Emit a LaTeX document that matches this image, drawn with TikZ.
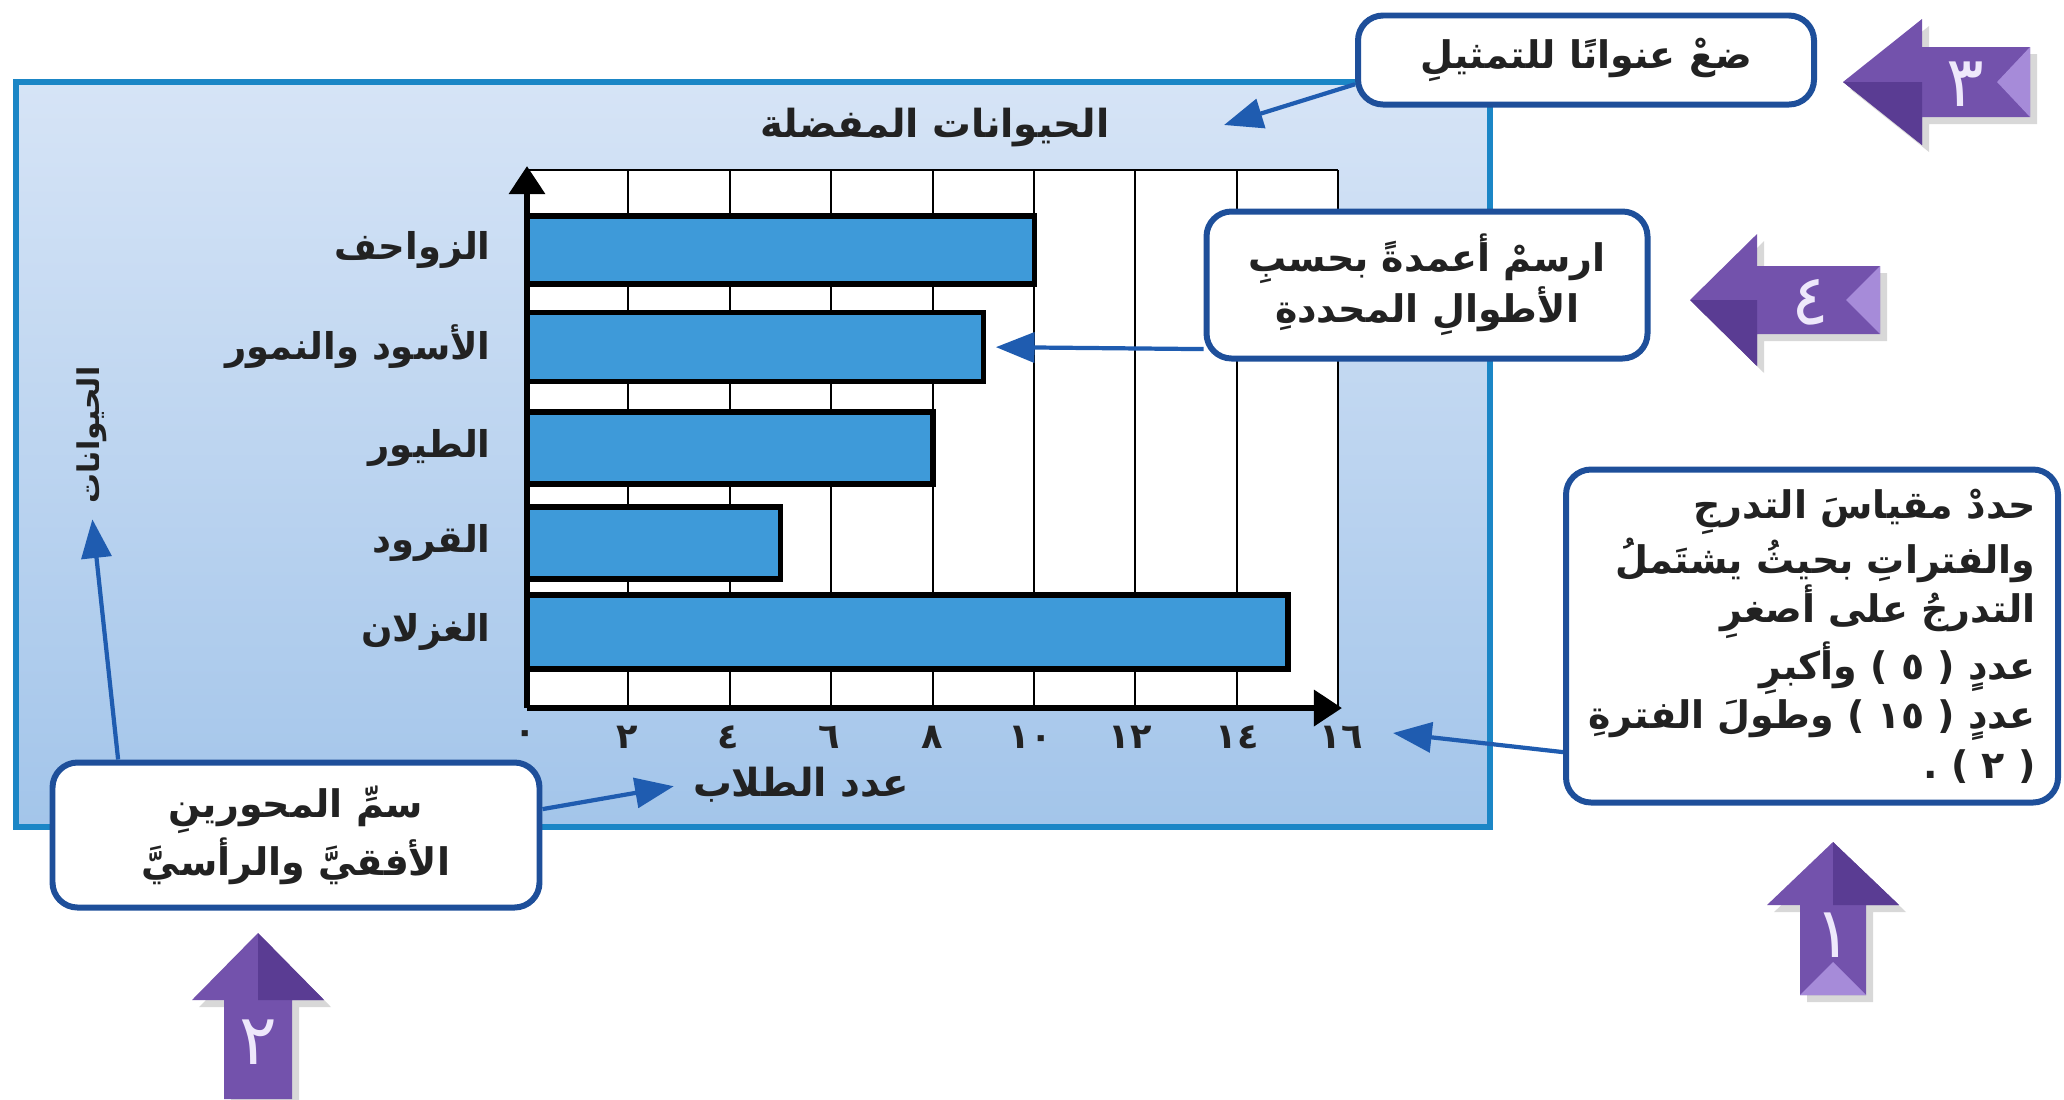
\documentclass[tikz,border=0pt]{standalone}
\usepackage{fontspec}
\usetikzlibrary{arrows.meta,shadows}
\TeXXeTstate=1
\newfontfamily\arabicfont[Script=Arabic]{DejaVu Sans}
\newcommand{\pxl}{0.01cm}
\newcommand{\stw}{0.507cm}
\definecolor{panelblue}{HTML}{1B86C6}
\definecolor{paneltop}{HTML}{D6E4F6}
\definecolor{panelbottom}{HTML}{A3C5EA}
\definecolor{calloutblue}{HTML}{1E4F9A}
\definecolor{pointerblue}{HTML}{1F5CB0}
\definecolor{barblue}{HTML}{3E9AD9}
\definecolor{arrowpurple}{HTML}{7352AC}
\definecolor{purplelight}{HTML}{A68BD9}
\definecolor{purpledark}{HTML}{5A3C93}
\definecolor{digitlav}{HTML}{EEE8FB}
\definecolor{textdark}{HTML}{222222}

\begin{document}
\begin{tikzpicture}[x=\pxl, y=-\pxl,
    panel/.style={draw=panelblue, line width=1.8pt, top color=paneltop, bottom color=panelbottom},
    callout/.style={draw=calloutblue, line width=1.7pt, rounded corners=0.25cm, fill=white, align=center, inner sep=0pt, text=textdark, font=\arabicfont\bfseries\fontsize{10.8}{14.5}\selectfont},
    pointer/.style={draw=pointerblue, line width=1.2pt, -{Triangle[length=11pt,width=8.5pt]}},
    animalbar/.style={draw=black, line width=1.6pt, fill=barblue, anchor=west, inner sep=0pt, outer sep=0pt},
    catlabel/.style={anchor=east, text=textdark, font=\arabicfont\bfseries\fontsize{10.5}{13}\selectfont},
    ticklabel/.style={text=textdark, font=\arabicfont\bfseries\fontsize{10}{12}\selectfont},
    axislabel/.style={text=textdark, font=\arabicfont\bfseries\fontsize{11}{13}\selectfont},
    axisline/.style={draw=black, line width=1.8pt, -{Triangle[length=8pt,width=10pt]}},
    gridline/.style={draw=black, line width=0.6pt},
    parrow/.style={fill=arrowpurple, drop shadow={opacity=0.3, shadow xshift=2pt, shadow yshift=-2pt}},
    ptail/.style={fill=purplelight},
    pfacet/.style={fill=purpledark},
    pdigit/.style={text=digitlav, font=\arabicfont\fontsize{20}{22}\selectfont}]

    % Background and panel
    \fill[white] (0,0) rectangle (2064,1099);
    \useasboundingbox (0,0) rectangle (2064,1099);
    \draw[panel] (16,82) rectangle (1490,827);

    % Title
    \node[axislabel] (title) at (935,128) {\beginR الحيوانات المفضلة\endR};

    % Grid
    \fill[white] (527,170) rectangle (1338,708);
    \draw[gridline] (527,170) -- (1338,170);
    \draw[gridline] (628.4,170) -- (628.4,708);
    \draw[gridline] (729.8,170) -- (729.8,708);
    \draw[gridline] (831.2,170) -- (831.2,708);
    \draw[gridline] (932.6,170) -- (932.6,708);
    \draw[gridline] (1034,170) -- (1034,708);
    \draw[gridline] (1135.4,170) -- (1135.4,708);
    \draw[gridline] (1236.8,170) -- (1236.8,708);
    \draw[gridline] (1338.2,170) -- (1338.2,708);

    % Bars
    \node[animalbar, minimum width=10*\stw, minimum height=68*\pxl] (bar-1) at (527,250) {};
    \node[animalbar, minimum width=9*\stw, minimum height=69*\pxl] (bar-2) at (527,347) {};
    \node[animalbar, minimum width=8*\stw, minimum height=72*\pxl] (bar-3) at (527,448) {};
    \node[animalbar, minimum width=5*\stw, minimum height=72*\pxl] (bar-4) at (527,543) {};
    \node[animalbar, minimum width=15*\stw, minimum height=74*\pxl] (bar-5) at (527,632) {};

    % Axes
    \coordinate (origin) at (527,708);
    \coordinate (ytop) at (527,166);
    \coordinate (xend) at (1342,708);
    \draw[axisline] (origin) -- (ytop);
    \draw[axisline] (origin) -- (xend);

    % Category labels
    \node[catlabel] (cat-1) at (503,250) {\beginR الزواحف\endR};
    \node[catlabel] (cat-2) at (503,347) {\beginR الأسود والنمور\endR};
    \node[catlabel] (cat-3) at (503,448) {\beginR الطيور\endR};
    \node[catlabel] (cat-4) at (503,543) {\beginR القرود\endR};
    \node[catlabel] (cat-5) at (503,632) {\beginR الغزلان\endR};

    % Tick labels
    \node[ticklabel] (tick-0) at (525,737) {٠};
    \node[ticklabel] (tick-2) at (627,737) {٢};
    \node[ticklabel] (tick-4) at (728,737) {٤};
    \node[ticklabel] (tick-6) at (829,737) {٦};
    \node[ticklabel] (tick-8) at (932,737) {٨};
    \node[ticklabel] (tick-10) at (1030,737) {١٠};
    \node[ticklabel] (tick-12) at (1130,737) {١٢};
    \node[ticklabel] (tick-14) at (1237,737) {١٤};
    \node[ticklabel] (tick-16) at (1341,737) {١٦};

    % Axis labels
    \node[axislabel] (xlabel) at (801,785) {\beginR عدد الطلاب\endR};
    \node[axislabel, rotate=90, font=\arabicfont\bfseries\fontsize{8.5}{10}\selectfont] (ylabel) at (92,435) {\beginR الحيوانات\endR};

    % Callouts
    \node[callout, minimum width=456*\pxl, minimum height=89*\pxl] (boxTitle) at (1586,60) {\beginR ضعْ عنوانًا للتمثيلِ\endR};
    \node[callout, minimum width=441*\pxl, minimum height=147*\pxl] (boxBars) at (1427,285) {\beginR ارسمْ أعمدةً بحسبِ\endR\\\beginR الأطوالِ المحددةِ\endR};
    \node[callout, align=right, minimum width=492*\pxl, minimum height=333*\pxl, font=\arabicfont\bfseries\fontsize{10.8}{14}\selectfont] (boxScale) at (1812,636) {\beginR حددْ مقياسَ التدرجِ\endR\\\beginR والفتراتِ بحيثُ يشتَملُ\endR\\\beginR التدرجُ على أصغرِ\endR\\\beginR عددٍ ( ٥ ) وأكبرِ\endR\\\beginR عددٍ ( ١٥ ) وطولَ الفترةِ\endR\\\beginR ( ٢ ) .\endR};
    \node[callout, minimum width=487*\pxl, minimum height=145*\pxl] (boxAxes) at (296,835) {\beginR سمِّ المحورينِ\endR\\\beginR الأفقيَّ والرأسيَّ\endR};

    % Pointers
    \coordinate (titletip) at (1224,125);
    \coordinate (scaletip) at (1393,733);
    \draw[pointer] (boxTitle.186) -- (titletip);
    \draw[pointer, shorten >=3.5pt] (boxBars.196) -- (bar-2.east);
    \draw[pointer] (boxScale.205) -- (scaletip);
    \draw[pointer, shorten >=1pt] (boxAxes.157) -- (ylabel.west);
    \draw[pointer, shorten >=2pt] (boxAxes.6) -- (xlabel.west);

    % Step arrows
    \fill[parrow] (1843,82) -- (1922,19) -- (1922,47) -- (2030,47) -- (2030,117) -- (1922,117) -- (1922,145) -- cycle;
    \fill[pfacet] (1843,82) -- (1922,82) -- (1922,145) -- cycle;
    \fill[ptail] (2030,47) -- (1997,82) -- (2030,117) -- cycle;
    \fill[parrow] (1690,300) -- (1757,234) -- (1757,266) -- (1880,266) -- (1880,334) -- (1757,334) -- (1757,366) -- cycle;
    \fill[pfacet] (1690,300) -- (1757,300) -- (1757,366) -- cycle;
    \fill[ptail] (1880,266) -- (1846,300) -- (1880,334) -- cycle;
    \fill[parrow] (1833,842) -- (1899,905) -- (1866,905) -- (1866,995) -- (1800,995) -- (1800,905) -- (1767,905) -- cycle;
    \fill[pfacet] (1833,842) -- (1899,905) -- (1833,905) -- cycle;
    \fill[ptail] (1800,995) -- (1833,962) -- (1866,995) -- cycle;
    \fill[parrow] (258,933) -- (324,1000) -- (292,1000) -- (292,1099) -- (224,1099) -- (224,1000) -- (192,1000) -- cycle;
    \fill[pfacet] (258,933) -- (324,1000) -- (258,1000) -- cycle;

    \node[pdigit] (num-3) at (1965,84) {٣};
    \node[pdigit] (num-4) at (1810,302) {٤};
    \node[pdigit] (num-1) at (1833,935) {١};
    \node[pdigit] (num-2) at (258,1042) {٢};

\end{tikzpicture}
\end{document}
